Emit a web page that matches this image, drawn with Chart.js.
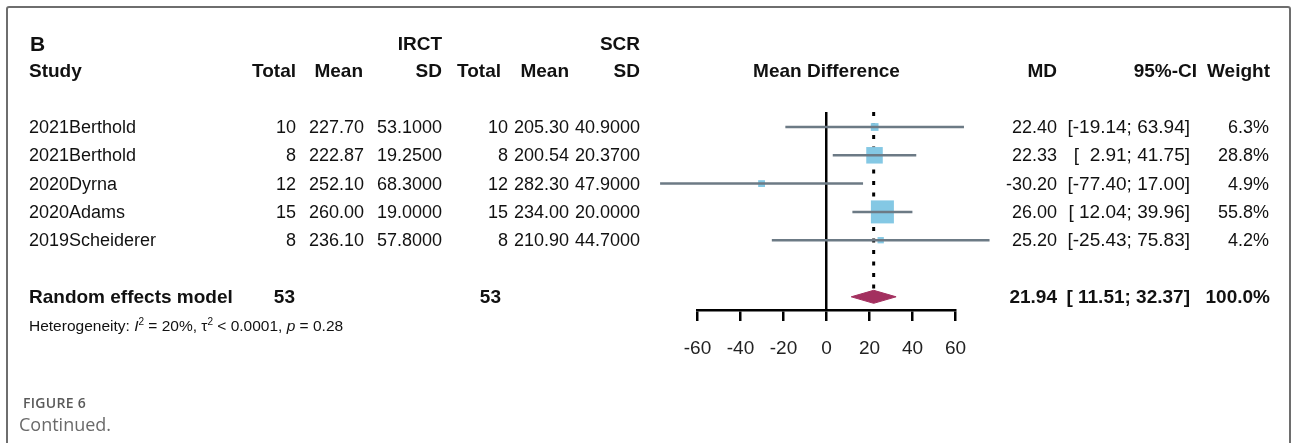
<!DOCTYPE html>
<html>
<head>
<meta charset="utf-8">
<script src="https://cdn.jsdelivr.net/npm/chart.js@4.4.1/dist/chart.umd.min.js"></script>
<style>
html, body { margin: 0; padding: 0; background: #fff; }
#wrap { position: relative; width: 1292px; height: 443px; overflow: hidden; font-family: "Liberation Sans", Arial, sans-serif; color: #111; }
#frame { position: absolute; left: 6px; top: 6px; width: 1281px; height: 470px; border: 2px solid #6e6e6e; border-radius: 3px; }
#forest { position: absolute; left: 0; top: 0; }
.t { position: absolute; white-space: pre; font-size: 18px; line-height: 20px; }
.b { font-weight: bold; font-size: 19px; }
.r { transform: translateX(-100%); }
.c { transform: translateX(-50%); }
.het { font-size: 15.5px; }
.het sup { font-size: 10px; position: relative; top: -6px; vertical-align: baseline; }
.cap { position: absolute; font-family: "Open Sans", "Noto Sans", sans-serif; color: #5a5a5a; white-space: nowrap; }
</style>
</head>
<body>
<div id="wrap">
  <div id="frame"></div>
  <canvas id="forest" width="1292" height="443"></canvas>
  <div class="cap" style="left:23px; top:393px; font-size:14px; font-weight:600; letter-spacing:0.3px;">FIGURE 6</div>
  <div class="cap" style="left:19px; top:412px; font-size:18px; color:#6a6a6a;">Continued.</div>
</div>
<script>
const studies = ['2021Berthold', '2021Berthold', '2020Dyrna', '2020Adams', '2019Scheiderer'];
const irctTotal = [10, 8, 12, 15, 8];
const irctMean = [227.70, 222.87, 252.10, 260.00, 236.10];
const irctSD = [53.1, 19.25, 68.3, 19.0, 57.8];
const scrTotal = [10, 8, 12, 15, 8];
const scrMean = [205.30, 200.54, 282.30, 234.00, 210.90];
const scrSD = [40.9, 20.37, 47.9, 20.0, 44.7];
const md = [22.40, 22.33, -30.20, 26.00, 25.20];
const ciLow = [-19.14, 2.91, -77.40, 12.04, -25.43];
const ciHigh = [63.94, 41.75, 17.00, 39.96, 75.83];
const weight = [6.3, 28.8, 4.9, 55.8, 4.2];

const pooledMD = 21.94;
const pooledLow = 11.51;
const pooledHigh = 32.37;
const pooledLabel = 'Random effects model';
const heterogeneity = 'Heterogeneity: <i>I</i><sup>2</sup> = 20%, τ<sup>2</sup> &lt; 0.0001, <i>p</i> = 0.28';

const xTicks = [-60, -40, -20, 0, 20, 40, 60];

const pooledRow = studies.length + 1;
const FONT = '"Liberation Sans", Arial, sans-serif';

// square area follows the weight, biggest box about 23px wide
const maxW = Math.max(...weight);
const boxRadius = weight.map(w => 23 * Math.sqrt(w / maxW) / Math.SQRT2);

const ciSets = studies.map((s, i) => ({
    data: [{ x: ciLow[i], y: i }, { x: ciHigh[i], y: i }],
    showLine: true,
    borderColor: '#6c7a85',
    borderWidth: 2.5,
    pointRadius: 0,
    clip: false,
    order: 1
}));

const chart = new Chart(document.getElementById('forest'), {
    type: 'scatter',
    data: {
        datasets: [
            {
                // pooled estimate, dotted
                data: [{ x: pooledMD, y: -0.53 }, { x: pooledMD, y: pooledRow - 0.28 }],
                showLine: true,
                borderColor: '#000',
                borderWidth: 3,
                borderDash: [4, 7.5],
                pointRadius: 0,
                order: 4
            },
            {
                data: md.map((v, i) => ({ x: v, y: i })),
                pointStyle: 'rect',
                pointRadius: boxRadius,
                pointHoverRadius: boxRadius,
                backgroundColor: '#84c8e4',
                borderWidth: 0,
                clip: false,
                order: 2
            },
            ...ciSets,
            {
                data: [
                    { x: pooledLow, y: pooledRow },
                    { x: pooledMD, y: pooledRow - 0.23 },
                    { x: pooledHigh, y: pooledRow },
                    { x: pooledMD, y: pooledRow + 0.23 },
                    { x: pooledLow, y: pooledRow }
                ],
                showLine: true,
                fill: 'shape',
                backgroundColor: '#a3305f',
                borderColor: '#a3305f',
                borderWidth: 1,
                pointRadius: 0,
                order: 3
            }
        ]
    },
    options: {
        responsive: false,
        animation: false,
        events: [],
        layout: { padding: { left: 697.5, right: 336.5, top: 112, bottom: 83 } },
        plugins: { legend: { display: false }, tooltip: { enabled: false } },
        scales: {
            x: {
                type: 'linear',
                min: -60,
                max: 60,
                afterBuildTicks: s => { s.ticks = xTicks.map(v => ({ value: v })); },
                afterFit: s => { s.height = 50; },
                ticks: { color: '#222', font: { family: FONT, size: 19 }, padding: 16, maxRotation: 0, autoSkip: false },
                grid: {
                    color: c => (c.tick && c.tick.value === 0 ? '#000' : 'rgba(0,0,0,0)'),
                    tickColor: '#000',
                    lineWidth: 2.5,
                    tickLength: 11,
                    drawOnChartArea: true
                },
                border: { display: true, color: '#000', width: 2.5 }
            },
            y: { type: 'linear', reverse: true, min: -0.53, max: 6.466, display: false }
        }
    }
});

// table text, placed on the chart's row scale
const wrap = document.getElementById('wrap');
const yPix = r => chart.scales.y.getPixelForValue(r);
const xPix = v => chart.scales.x.getPixelForValue(v);

function put(text, x, row, cls, html) {
    const el = document.createElement('div');
    el.className = 't ' + (cls || '');
    if (html) el.innerHTML = text; else el.textContent = text;
    el.style.left = x + 'px';
    el.style.top = (yPix(row) - 10) + 'px';
    wrap.appendChild(el);
    return el;
}

const f2 = v => v.toFixed(2);
const f4 = v => v.toFixed(4);
const ciText = (lo, hi) => '[' + f2(lo).padStart(6) + '; ' + f2(hi) + ']';

const head1 = -2.93, head2 = -1.98;
const b = put('B', 30, head1, 'b');
b.style.fontSize = '21px';
put('IRCT', 442, head1, 'b r');
put('SCR', 640, head1, 'b r');

put('Study', 29, head2, 'b');
put('Total', 296, head2, 'b r');
put('Mean', 363, head2, 'b r');
put('SD', 442, head2, 'b r');
put('Total', 501, head2, 'b r');
put('Mean', 569, head2, 'b r');
put('SD', 640, head2, 'b r');
put('Mean Difference', xPix(0), head2, 'b c');
put('MD', 1057, head2, 'b r');
put('95%-CI', 1197, head2, 'b r');
put('Weight', 1270, head2, 'b r');

studies.forEach((s, i) => {
    put(s, 29, i);
    put(String(irctTotal[i]), 296, i, 'r');
    put(f2(irctMean[i]), 364, i, 'r');
    put(f4(irctSD[i]), 442, i, 'r');
    put(String(scrTotal[i]), 508, i, 'r');
    put(f2(scrMean[i]), 569, i, 'r');
    put(f4(scrSD[i]), 640, i, 'r');
    put(f2(md[i]), 1057, i, 'r');
    const ci = put(ciText(ciLow[i], ciHigh[i]), 1190, i, 'r');
    ci.style.fontSize = '19px';
    put(weight[i].toFixed(1) + '%', 1269, i, 'r');
});

const sum = a => a.reduce((p, q) => p + q, 0);
put(pooledLabel, 29, pooledRow, 'b');
put(String(sum(irctTotal)), 295, pooledRow, 'b r');
put(String(sum(scrTotal)), 501, pooledRow, 'b r');
put(f2(pooledMD), 1057, pooledRow, 'b r');
put(ciText(pooledLow, pooledHigh), 1190, pooledRow, 'b r');
put(sum(weight).toFixed(1) + '%', 1270, pooledRow, 'b r');

put(heterogeneity, 29, 7.03, 'het', true);
</script>
</body>
</html>
